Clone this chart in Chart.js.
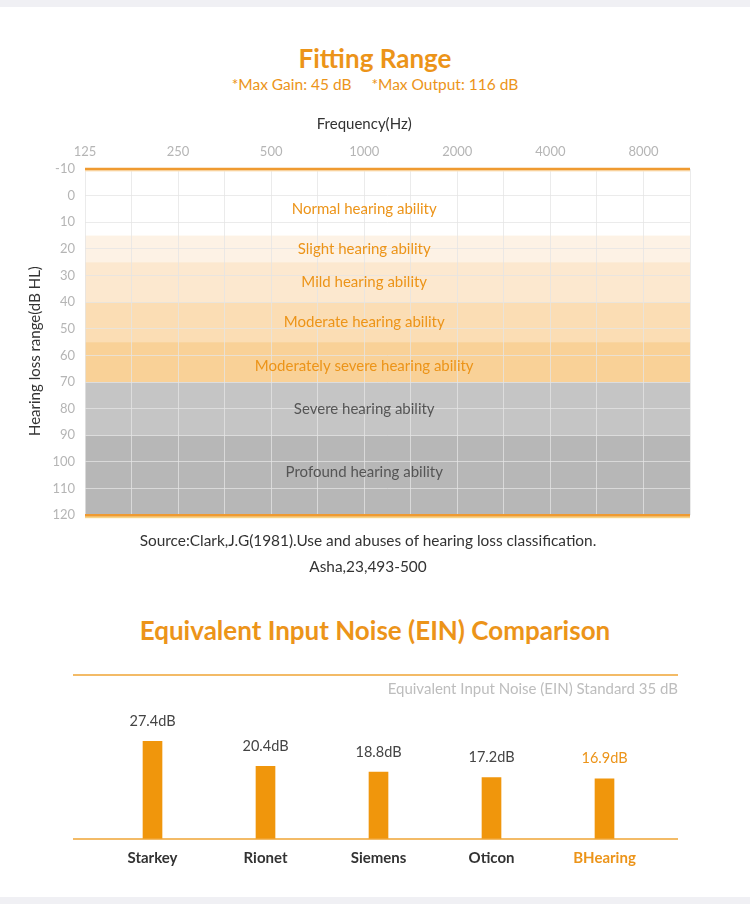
<!DOCTYPE html>
<html>
<head>
<meta charset="utf-8">
<script src="https://cdn.jsdelivr.net/npm/chart.js@4.4.1/dist/chart.umd.min.js"></script>
<style>
  body { margin: 0; background: #fff; font-family: Lato, sans-serif; }
  .page { position: relative; width: 750px; height: 904px; overflow: hidden; }
  .strip { position: absolute; left: 0; width: 750px; height: 7px; background: #f0f0f4; }
  .txt { position: absolute; left: 0; width: 750px; text-align: center; white-space: pre; }
  .title { color: #ec9419; font-weight: bold; font-size: 26px; }
  .sub { color: #ec9419; font-size: 15.5px; }
  .src { color: #333; font-size: 15.4px; }
  canvas { position: absolute; left: 0; }
</style>
</head>
<body>
<div class="page">
  <div class="strip" style="top:0"></div>
  <div class="txt title" style="top:42px">Fitting Range</div>
  <div class="txt sub" style="top:75px">*Max Gain: 45 dB     *Max Output: 116 dB</div>
  <div style="position:absolute;left:0;top:100px;width:750px;height:433px"><canvas id="rangeChart"></canvas></div>
  <div class="txt src" style="top:531px;left:-7px">Source:Clark,J.G(1981).Use and abuses of hearing loss classification.</div>
  <div class="txt src" style="top:557px;left:-7px">Asha,23,493-500</div>
  <div class="txt title" style="top:614px">Equivalent Input Noise (EIN) Comparison</div>
  <div style="position:absolute;left:0;top:650px;width:750px;height:240px"><canvas id="einChart"></canvas></div>
  <div class="strip" style="top:897px"></div>
</div>
<script>
// Fitting range chart data
const freqLabels = ['125', '250', '500', '1000', '2000', '4000', '8000'];
const bandNames = ['Normal hearing ability', 'Slight hearing ability', 'Mild hearing ability',
    'Moderate hearing ability', 'Moderately severe hearing ability', 'Severe hearing ability',
    'Profound hearing ability'];
const bandFrom = [-10, 15, 25, 40, 55, 70, 90];
const bandTo = [15, 25, 40, 55, 70, 90, 120];
const bandLabelAt = [5, 20, 32.5, 47.5, 64, 80, 104];

// EIN comparison data
const brands = ['Starkey', 'Rionet', 'Siemens', 'Oticon', 'BHearing'];
const einValues = [27.4, 20.4, 18.8, 17.2, 16.9];
const einStandard = 35;

const orange = '#ec9419';
const bandColors = ['rgba(0,0,0,0)', '#fdf2e5', '#fce8cf', '#fbddb4', '#f9d197', '#c5c5c5', '#b7b7b7'];
const bandTextColors = [orange, orange, orange, orange, orange, '#555', '#555'];

const bandsPlugin = {
    id: 'bands',
    beforeDraw(chart) {
        const { ctx, chartArea, scales } = chart;
        ctx.save();
        bandFrom.forEach((from, i) => {
            const y1 = scales.y.getPixelForValue(from);
            const y2 = scales.y.getPixelForValue(bandTo[i]);
            ctx.fillStyle = bandColors[i];
            ctx.fillRect(chartArea.left, y1, chartArea.right - chartArea.left, y2 - y1);
        });
        ctx.restore();
    },
    afterDraw(chart) {
        const { ctx, chartArea, scales } = chart;
        ctx.save();
        ctx.textAlign = 'center';
        ctx.textBaseline = 'middle';
        ctx.font = '15px Lato, sans-serif';
        ctx.fillStyle = '#333';
        // axis titles
        ctx.fillText('Frequency(Hz)', scales.x.getPixelForValue(3), chartArea.top - 45);
        ctx.save();
        ctx.translate(35, (chartArea.top + chartArea.bottom) / 2 + 9);
        ctx.rotate(-Math.PI / 2);
        ctx.fillText('Hearing loss range(dB HL)', 0, 0);
        ctx.restore();
        // band labels
        bandNames.forEach((name, i) => {
            ctx.fillStyle = bandTextColors[i];
            ctx.fillText(name, scales.x.getPixelForValue(3), scales.y.getPixelForValue(bandLabelAt[i]));
        });
        // range limits
        const yTop = scales.y.getPixelForValue(scales.y.min);
        const yBot = scales.y.getPixelForValue(scales.y.max);
        ctx.fillStyle = '#fbe3c0';
        ctx.fillRect(chartArea.left, yTop + 1, chartArea.right - chartArea.left, 1.5);
        ctx.fillStyle = '#f7d488';
        ctx.fillRect(chartArea.left, yBot + 1, chartArea.right - chartArea.left, 2);
        ctx.strokeStyle = '#ef9a30';
        ctx.lineWidth = 2.5;
        ctx.beginPath();
        ctx.moveTo(chartArea.left, yTop);
        ctx.lineTo(chartArea.right, yTop);
        ctx.moveTo(chartArea.left, yBot);
        ctx.lineTo(chartArea.right, yBot);
        ctx.stroke();
        ctx.restore();
    }
};

new Chart(document.getElementById('rangeChart'), {
    type: 'scatter',
    data: { datasets: [{ data: [], showLine: false }] },
    plugins: [bandsPlugin],
    options: {
        responsive: true,
        maintainAspectRatio: false,
        animation: false,
        layout: { padding: { left: 0, right: 60, top: 0, bottom: 11 } },
        plugins: { legend: { display: false }, tooltip: { enabled: false } },
        scales: {
            x: {
                type: 'linear',
                position: 'top',
                min: 0,
                max: 6.5,
                border: { display: false },
                grid: { color: 'rgba(228,228,228,0.75)', drawTicks: false },
                ticks: {
                    stepSize: 0.5,
                    padding: 9,
                    color: '#b5b5b5',
                    font: { family: 'Lato', size: 13 },
                    callback: v => Number.isInteger(v) ? freqLabels[v] : ''
                },
                afterFit: s => { s.height = 69; }
            },
            y: {
                reverse: true,
                min: -10,
                max: 120,
                border: { display: false },
                grid: { color: 'rgba(228,228,228,0.75)', drawTicks: false },
                ticks: {
                    stepSize: 10,
                    padding: 10,
                    color: '#b5b5b5',
                    font: { family: 'Lato', size: 13 }
                },
                afterFit: s => { s.width = 85; }
            }
        }
    }
});

const einPlugin = {
    id: 'einDecor',
    afterDraw(chart) {
        const { ctx, chartArea } = chart;
        const left = chartArea.left - 23;
        const right = chartArea.right + 17;
        ctx.save();
        ctx.strokeStyle = '#efa536';
        ctx.lineWidth = 1.5;
        ctx.beginPath();
        ctx.moveTo(left, chartArea.top);
        ctx.lineTo(right, chartArea.top);
        ctx.moveTo(left, chartArea.bottom);
        ctx.lineTo(right, chartArea.bottom);
        ctx.stroke();
        ctx.font = '15px Lato, sans-serif';
        ctx.fillStyle = '#bdbdbd';
        ctx.textAlign = 'right';
        ctx.textBaseline = 'middle';
        ctx.fillText('Equivalent Input Noise (EIN) Standard ' + einStandard + ' dB', right, chartArea.top + 14);
        // value labels
        ctx.font = '14.5px Lato, sans-serif';
        ctx.textAlign = 'center';
        chart.getDatasetMeta(0).data.forEach((bar, i) => {
            ctx.fillStyle = i === einValues.length - 1 ? orange : '#444';
            ctx.fillText(einValues[i] + 'dB', bar.x, bar.y - 20);
        });
        ctx.restore();
    }
};

new Chart(document.getElementById('einChart'), {
    type: 'bar',
    data: {
        labels: brands,
        datasets: [{ data: einValues, backgroundColor: '#f0960c', barThickness: 19 }]
    },
    plugins: [einPlugin],
    options: {
        responsive: true,
        maintainAspectRatio: false,
        animation: false,
        layout: { padding: { left: 96, right: 89, top: 25, bottom: 11 } },
        plugins: { legend: { display: false }, tooltip: { enabled: false } },
        scales: {
            x: {
                border: { display: false },
                grid: { display: false, drawTicks: false },
                ticks: {
                    padding: 10,
                    color: ctx => ctx.index === brands.length - 1 ? orange : '#333',
                    font: { family: 'Lato', size: 15, weight: 'bold' }
                },
                afterFit: s => { s.height = 40; }
            },
            y: {
                display: false,
                min: 0,
                max: 46
            }
        }
    }
});
</script>
</body>
</html>
